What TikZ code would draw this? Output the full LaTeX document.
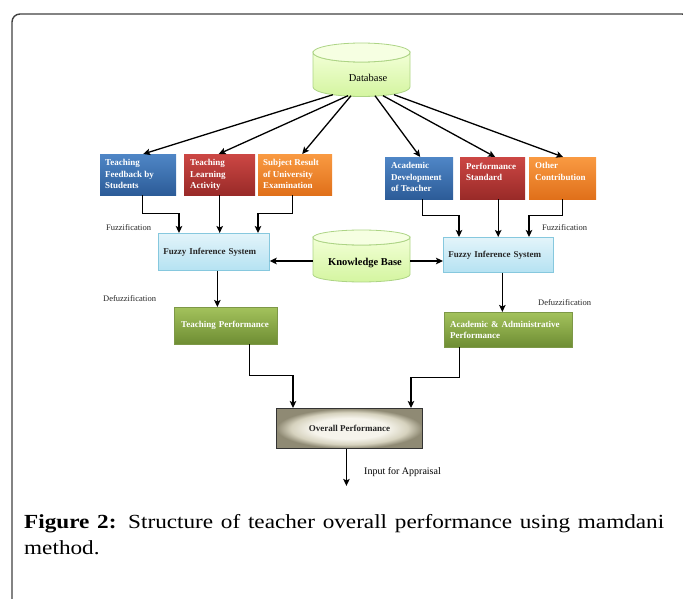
\documentclass[tikz,border=0pt]{standalone}
\usepackage{fontspec}
\setmainfont{Liberation Serif}
\newfontfamily\capfont[FakeStretch=1.16]{Liberation Serif}
\usetikzlibrary{calc,arrows.meta}
\definecolor{bluetop}{HTML}{4F86C6}
\definecolor{bluebot}{HTML}{2C5C98}
\definecolor{redtop}{HTML}{CC4744}
\definecolor{redbot}{HTML}{992A28}
\definecolor{orgtop}{HTML}{F99A42}
\definecolor{orgbot}{HTML}{E0701A}
\definecolor{fistop}{HTML}{E3F4FA}
\definecolor{fisbot}{HTML}{B5E2F2}
\definecolor{fisborder}{HTML}{86C8DE}
\definecolor{grntop}{HTML}{A3C25C}
\definecolor{grnbot}{HTML}{6E8D33}
\definecolor{cyltop}{HTML}{F2FFD6}
\definecolor{cylbot}{HTML}{D4F5A0}
\definecolor{cylborder}{HTML}{ADD485}
\definecolor{opin}{HTML}{F6F4EC}
\definecolor{opmid}{HTML}{D6D2BE}
\definecolor{opout}{HTML}{8F8A74}
\definecolor{framec}{HTML}{404040}
\pgfdeclareradialshading{opshade}{\pgfpoint{0bp}{0bp}}{color(0bp)=(opin); color(13bp)=(opin); color(20bp)=(opmid); color(25bp)=(opout); color(50bp)=(opout)}
\newcommand{\drawcyl}[5]{%
  \path[top color=cyltop, bottom color=cylbot, draw=cylborder, line width=0.8pt]
    (#1-#4,#2) -- (#1-#4,#3) arc[start angle=180, end angle=0, x radius=#4, y radius=#5]
    -- (#1+#4,#2) arc[start angle=0, end angle=180, x radius=#4, y radius=#5] -- cycle;
  \path[fill=cyltop!70!white, draw=cylborder, line width=0.8pt] (#1,#2) ellipse[x radius=#4, y radius=#5];
}
\tikzset{
  boxfont/.style={font=\fontsize{9}{11.5}\selectfont\bfseries},
  cbox/.style={anchor=north west, inner sep=0pt, draw=none},
  btxt/.style={anchor=north west, inner sep=0pt, boxfont, text=white, align=left},
  fisbox/.style={anchor=north west, top color=fistop, bottom color=fisbot, draw=fisborder, line width=0.7pt,
                 boxfont, text=black!85, align=left, inner ysep=0pt},
  grnbox/.style={anchor=north west, top color=grntop, bottom color=grnbot, draw=grnbot!90!white, line width=0.4pt,
                 boxfont, text=white, align=left, inner ysep=0pt},
  lbl/.style={font=\fontsize{8.5}{10}\selectfont, anchor=west, inner sep=0pt, text=black!85},
  arr/.style={-{Stealth[length=7pt,width=6.5pt,inset=1.5pt]}, line width=1.3pt, black},
}
\begin{document}
\begin{tikzpicture}[x=1pt,y=-1pt]
\useasboundingbox (0,0) rectangle (683,599);
\begin{scope}
\clip (0,0) rectangle (683,599);
\draw[framec, line width=1.4pt, rounded corners=8pt] (12,620) -- (12,14) -- (690,14) -- (690,620);
\end{scope}

% cylinders
\drawcyl{361.5}{52.5}{87}{48.5}{9.5}
\node[inner sep=0pt, minimum width=97pt, minimum height=53.5pt] (db) at (361.5,69.75) {};
\node[font=\fontsize{10.5}{12}\selectfont, inner sep=0pt] (dbt) at (368,78) {Database};

\drawcyl{361.5}{237.5}{274.5}{48.5}{7.5}
\node[inner sep=0pt, minimum width=97pt, minimum height=52pt] (kb) at (361.5,256) {};
\node[font=\fontsize{10.5}{12}\selectfont\bfseries, inner sep=0pt] (kbt) at (365,263) {Knowledge Base};

% top row boxes
\node[cbox, top color=bluetop, bottom color=bluebot, minimum width=76pt, minimum height=41pt] (tf) at (100,154) {};
\node[btxt] (tft) at (105,159.5) {Teaching\\Feedback by\\Students};
\node[cbox, top color=redtop, bottom color=redbot, minimum width=71pt, minimum height=41pt] (tla) at (184,154) {};
\node[btxt] (tlat) at (190,159.5) {Teaching\\Learning\\Activity};
\node[cbox, top color=orgtop, bottom color=orgbot, minimum width=74pt, minimum height=41pt] (sr) at (258,154) {};
\node[btxt] (srt) at (263,159.5) {Subject Result\\of University\\Examination};

\node[cbox, top color=bluetop, bottom color=bluebot, minimum width=68pt, minimum height=42pt] (ad) at (385,157) {};
\node[btxt] (adt) at (391,162.5) {Academic\\Development\\of Teacher};
\node[cbox, top color=redtop, bottom color=redbot, minimum width=65pt, minimum height=42pt] (ps) at (460,157) {};
\node[btxt] (pst) at (466,162.5) {Performance\\Standard};
\node[cbox, top color=orgtop, bottom color=orgbot, minimum width=67pt, minimum height=42pt] (oc) at (529,157) {};
\node[btxt] (oct) at (535,162.5) {Other\\Contribution};

% FIS boxes
\node[fisbox, text width=101pt, inner xsep=5pt, minimum height=37pt] (fisl) at (158,233) {Fuzzy Inference System};
\node[fisbox, text width=100pt, inner xsep=5pt, minimum height=35pt] (fisr) at (443,237) {Fuzzy Inference System};

% green boxes
\node[grnbox, text width=89pt, inner xsep=7pt, minimum height=37pt] (tp) at (174,307) {Teaching Performance};
\node[grnbox, text width=116pt, inner xsep=6pt, minimum height=35pt] (aap) at (444,312) {Academic \& Administrative\\Performance};

% overall
\node[anchor=north west, shading=opshade, draw=black!80, line width=0.9pt,
      minimum width=146pt, minimum height=40pt, boxfont, text=black!85] (op) at (276,408) {Overall Performance};

% labels
\node[lbl] (fz1) at (106,228) {Fuzzification};
\node[lbl] (fz2) at (542,228) {Fuzzification};
\node[lbl] (dz1) at (103,299) {Defuzzification};
\node[lbl] (dz2) at (538,303) {Defuzzification};
\node[font=\fontsize{10}{12}\selectfont, anchor=west, inner sep=0pt] (inp) at (364,472) {Input for Appraisal};

% database arrows
\draw[arr] ($(db.south)+(-28.5,-2)$) -- ($(tf.north)+(5,0)$);
\draw[arr] ($(db.south)+(-13.5,-1)$) -- ($(tla.north)+(-1,0)$);
\draw[arr] ($(db.south)+(-10.5,-1)$) -- ($(sr.north)+(7,0)$);
\draw[arr] ($(db.south)+(13.5,-1)$) -- ($(ad.north)+(1,0)$);
\draw[arr] ($(db.south)+(21.5,-1)$) -- ($(ps.north)+(2.5,0)$);
\draw[arr] ($(db.south)+(32.5,-2)$) -- ($(oc.north)+(0.5,0)$);

% fuzzification connectors
\coordinate (fl1) at ($(fisl.north west)+(21,0)$);
\coordinate (fl3) at ($(fisl.north west)+(100,0)$);
\draw[arr] ($(tf.south)+(4,0)$) -- ++(0,18) -| (fl1);
\draw[arr] (tla.south) -- (tla.south |- fisl.north);
\draw[arr] ($(sr.south)+(-3,0)$) -- ++(0,18) -| (fl3);
\coordinate (fr1) at ($(fisr.north west)+(16,0)$);
\coordinate (fr3) at ($(fisr.north west)+(86,0)$);
\coordinate (psout) at ($(ps.south)+(5.5,0)$);
\draw[arr] ($(ad.south)+(3,0)$) -- ++(0,16) -| (fr1);
\draw[arr] (psout) -- (psout |- fisr.north);
\draw[arr] (oc.south) -- ++(0,16) -| (fr3);

% knowledge base
\coordinate (kbw) at ($(kb.west)+(0,5)$);
\coordinate (kbe) at ($(kb.east)+(0,5)$);
\draw[arr] (kbw) -- (kbw -| fisl.east);
\draw[arr] (kbe) -- (kbe -| fisr.west);

% defuzzification
\coordinate (flout) at ($(fisl.south)+(3.5,0)$);
\coordinate (frout) at ($(fisr.south)+(4,0)$);
\draw[arr] (flout) -- (flout |- tp.north);
\draw[arr] (frout) -- (frout |- aap.north);

% to overall
\coordinate (o1) at ($(op.north west)+(17,0)$);
\coordinate (o2) at ($(op.north west)+(135,0)$);
\draw[arr] ($(tp.south)+(23.5,0)$) -- ++(0,31) -| (o1);
\draw[arr] ($(aap.south)+(-49,0)$) -- ++(0,30) -| (o2);

\coordinate (outstart) at ($(op.south)+(-3,0)$);
\coordinate (outend) at ($(op.south)+(-3,37)$);
\draw[arr] (outstart) -- (outend);

% caption
\node[anchor=base west, inner sep=0pt, font=\capfont\fontsize{20}{26}\selectfont] (cap1) at (24,528)
  {\makebox[640pt][s]{\textbf{Figure 2:} Structure of teacher overall performance using mamdani}};
\node[anchor=base west, inner sep=0pt, font=\capfont\fontsize{20}{26}\selectfont] (cap2) at (24,554) {method.};
\end{tikzpicture}
\end{document}
